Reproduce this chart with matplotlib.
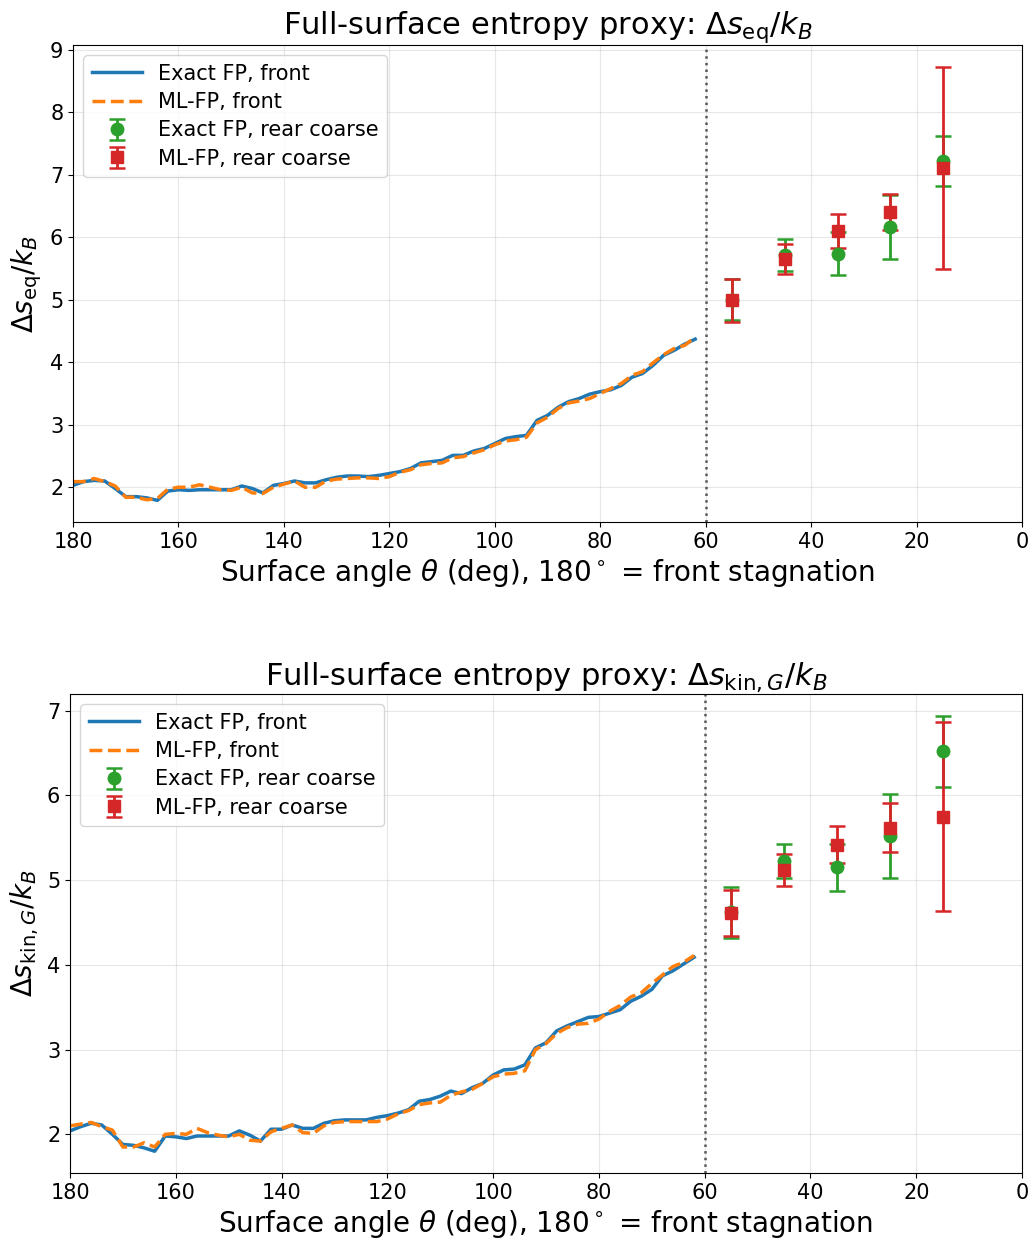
import numpy as np
import matplotlib.pyplot as plt

# front surface angles (deg), 180 = stagnation point
theta_front = np.arange(180, 61, -2)

seq_exact = [2.03, 2.09, 2.11, 2.10, 1.98, 1.85, 1.85, 1.83, 1.79, 1.94,
             1.96, 1.95, 1.96, 1.96, 1.96, 1.96, 2.02, 1.98, 1.91, 2.03,
             2.06, 2.10, 2.07, 2.07, 2.12, 2.16, 2.18, 2.18, 2.17, 2.19,
             2.22, 2.25, 2.30, 2.39, 2.41, 2.43, 2.51, 2.51, 2.58, 2.62,
             2.70, 2.78, 2.81, 2.83, 3.07, 3.15, 3.28, 3.37, 3.42, 3.49,
             3.53, 3.56, 3.63, 3.76, 3.82, 3.95, 4.11, 4.19, 4.29, 4.37]
seq_ml = [2.09, 2.09, 2.14, 2.09, 2.02, 1.84, 1.84, 1.80, 1.82, 1.97,
          2.00, 2.00, 2.04, 2.00, 1.96, 1.95, 2.00, 1.91, 1.90, 2.00,
          2.05, 2.10, 2.00, 2.00, 2.10, 2.13, 2.14, 2.15, 2.15, 2.14,
          2.17, 2.24, 2.28, 2.36, 2.38, 2.39, 2.47, 2.49, 2.55, 2.60,
          2.68, 2.74, 2.76, 2.80, 3.03, 3.12, 3.26, 3.35, 3.38, 3.42,
          3.50, 3.58, 3.66, 3.79, 3.85, 3.99, 4.12, 4.22, 4.27, 4.40]

skin_exact = [2.04, 2.09, 2.13, 2.11, 2.00, 1.88, 1.87, 1.84, 1.80, 1.98,
              1.97, 1.95, 1.98, 1.98, 1.98, 1.98, 2.04, 1.99, 1.92, 2.06,
              2.06, 2.11, 2.07, 2.07, 2.13, 2.16, 2.17, 2.17, 2.17, 2.20,
              2.22, 2.25, 2.29, 2.39, 2.41, 2.45, 2.51, 2.48, 2.55, 2.60,
              2.70, 2.76, 2.77, 2.82, 3.02, 3.08, 3.22, 3.28, 3.33, 3.38,
              3.39, 3.43, 3.47, 3.57, 3.63, 3.71, 3.87, 3.93, 4.01, 4.09]
skin_ml = [2.10, 2.12, 2.14, 2.09, 2.05, 1.85, 1.85, 1.90, 1.85, 2.00,
           2.01, 2.00, 2.07, 2.02, 1.99, 1.97, 2.00, 1.93, 1.92, 2.03,
           2.07, 2.11, 2.02, 2.01, 2.10, 2.14, 2.15, 2.15, 2.15, 2.15,
           2.18, 2.24, 2.28, 2.35, 2.37, 2.38, 2.46, 2.50, 2.53, 2.60,
           2.68, 2.71, 2.72, 2.75, 3.00, 3.07, 3.19, 3.26, 3.30, 3.31,
           3.36, 3.45, 3.52, 3.62, 3.67, 3.78, 3.88, 3.98, 4.03, 4.11]

# rear surface, coarse bins with uncertainty
theta_rear = [55, 45, 35, 25, 15]
seq_rear_exact = [5.00, 5.72, 5.74, 6.16, 7.22]
seq_rear_exact_err = [0.33, 0.26, 0.35, 0.51, 0.40]
seq_rear_ml = [4.99, 5.65, 6.10, 6.40, 7.11]
seq_rear_ml_err = [0.35, 0.24, 0.27, 0.29, 1.62]

skin_rear_exact = [4.62, 5.23, 5.15, 5.52, 6.52]
skin_rear_exact_err = [0.30, 0.20, 0.28, 0.50, 0.42]
skin_rear_ml = [4.61, 5.12, 5.42, 5.62, 5.75]
skin_rear_ml_err = [0.27, 0.19, 0.22, 0.29, 1.12]

panels = [
    (seq_exact, seq_ml, seq_rear_exact, seq_rear_exact_err, seq_rear_ml, seq_rear_ml_err,
     r'$\Delta s_{\rm eq}/k_B$'),
    (skin_exact, skin_ml, skin_rear_exact, skin_rear_exact_err, skin_rear_ml, skin_rear_ml_err,
     r'$\Delta s_{\mathrm{kin},G}/k_B$'),
]

fig, axes = plt.subplots(2, 1, figsize=(10.33, 12.43), dpi=100)
positions = [[0.0707, 0.580, 0.9187, 0.3838], [0.0678, 0.0563, 0.9216, 0.3854]]

for ax, pos, (fe, fm, re, ree, rm, rme, lab) in zip(axes, positions, panels):
    ax.set_position(pos)
    ax.plot(theta_front, fe, color='C0', lw=2.5, label='Exact FP, front')
    ax.plot(theta_front, fm, color='C1', lw=2.5, ls='--', label='ML-FP, front')
    ax.errorbar(theta_rear, re, yerr=ree, fmt='o', color='C2', ms=9, capsize=6,
                elinewidth=2, capthick=1.8, label='Exact FP, rear coarse')
    ax.errorbar(theta_rear, rm, yerr=rme, fmt='s', color='C3', ms=9, capsize=6,
                elinewidth=2, capthick=1.8, label='ML-FP, rear coarse')
    ax.axvline(60, color='0.35', ls=':', lw=1.8)
    ax.set_xlim(180, 0)
    ax.set_xticks(np.arange(180, -1, -20))
    ax.grid(True, alpha=0.3)
    ax.tick_params(labelsize=15)
    ax.set_xlabel(r'Surface angle $\theta$ (deg), 180$^\circ$ = front stagnation', fontsize=20)
    ax.set_ylabel(lab, fontsize=20)
    ax.set_title('Full-surface entropy proxy: ' + lab, fontsize=22)
    ax.legend(loc='upper left', fontsize=15, labelspacing=0.4, handlelength=2.4)

plt.savefig('out.png', dpi=100)
